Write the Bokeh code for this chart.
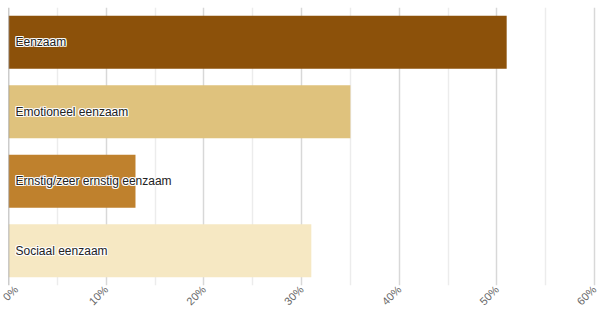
from bokeh.plotting import figure
from bokeh.models import FixedTicker, Span, ColumnDataSource, Range1d, FactorRange, CustomJSTickFormatter
from bokeh.core.properties import value
from bokeh.embed import file_html
from bokeh.resources import INLINE
import math

categories = ["Eenzaam", "Emotioneel eenzaam", "Ernstig/zeer ernstig eenzaam", "Sociaal eenzaam"]
percentages = [51.0, 35.0, 13.0, 31.0]
colors = ["#8c510a", "#dfc27d", "#bf812d", "#f6e8c3"]
major_ticks = [0, 10, 20, 30, 40, 50, 60]
minor_ticks = [5, 15, 25, 35, 45, 55]
tick_labels = ["0%", "10%", "20%", "30%", "40%", "50%", "60%"]

src = ColumnDataSource(dict(cat=categories, val=percentages, color=colors,
                            zero=[0] * len(categories)))

p = figure(width=598, height=314, output_backend="svg", toolbar_location=None,
           y_range=FactorRange(factors=list(reversed(categories)), range_padding=0),
           x_range=Range1d(0, 60.4),
           min_border_left=8, min_border_right=0, min_border_top=7, min_border_bottom=0)
p.outline_line_color = None
p.background_fill_color = "white"

p.hbar(y="cat", right="val", left=0, height=0.76, color="color", line_color=None, source=src)

# white halo behind the category labels
for dx, dy in [(-1, -1), (-1, 0), (-1, 1), (0, -1), (0, 1), (1, -1), (1, 0), (1, 1)]:
    p.text(x="zero", y="cat", text="cat", source=src, x_offset=7 + dx, y_offset=dy,
           text_baseline="middle", text_align="left",
           text_font=value("Liberation Sans"), text_font_size="12px",
           text_color="white", text_alpha=0.85)
p.text(x="zero", y="cat", text="cat", source=src, x_offset=7,
       text_baseline="middle", text_align="left",
       text_font=value("Liberation Sans"), text_font_size="12px", text_color="#222222")

p.yaxis.visible = False
p.ygrid.grid_line_color = None

p.xaxis.ticker = FixedTicker(ticks=major_ticks, minor_ticks=minor_ticks)
p.xaxis.major_label_overrides = {t: lab for t, lab in zip(major_ticks, tick_labels)}
p.xaxis.axis_line_color = None
p.xaxis.major_tick_line_color = None
p.xaxis.minor_tick_line_color = None
p.xaxis.major_tick_out = 0
p.xaxis.major_tick_in = 0
p.xaxis.minor_tick_out = 0
p.xaxis.major_label_standoff = 2
p.xaxis.major_label_orientation = math.pi / 4
p.xaxis.major_label_text_font = "Liberation Sans"
p.xaxis.major_label_text_font_size = "11px"
p.xaxis.major_label_text_color = "#666666"

p.xgrid.grid_line_color = "#d8d8d8"
p.xgrid.grid_line_width = 1.5
p.xgrid.minor_grid_line_color = "#ececec"
p.xgrid.minor_grid_line_width = 1.5

p.add_layout(Span(location=0, dimension="height", line_color="#999999", line_width=1.5))

open("out.html", "w").write(file_html(p, INLINE))
